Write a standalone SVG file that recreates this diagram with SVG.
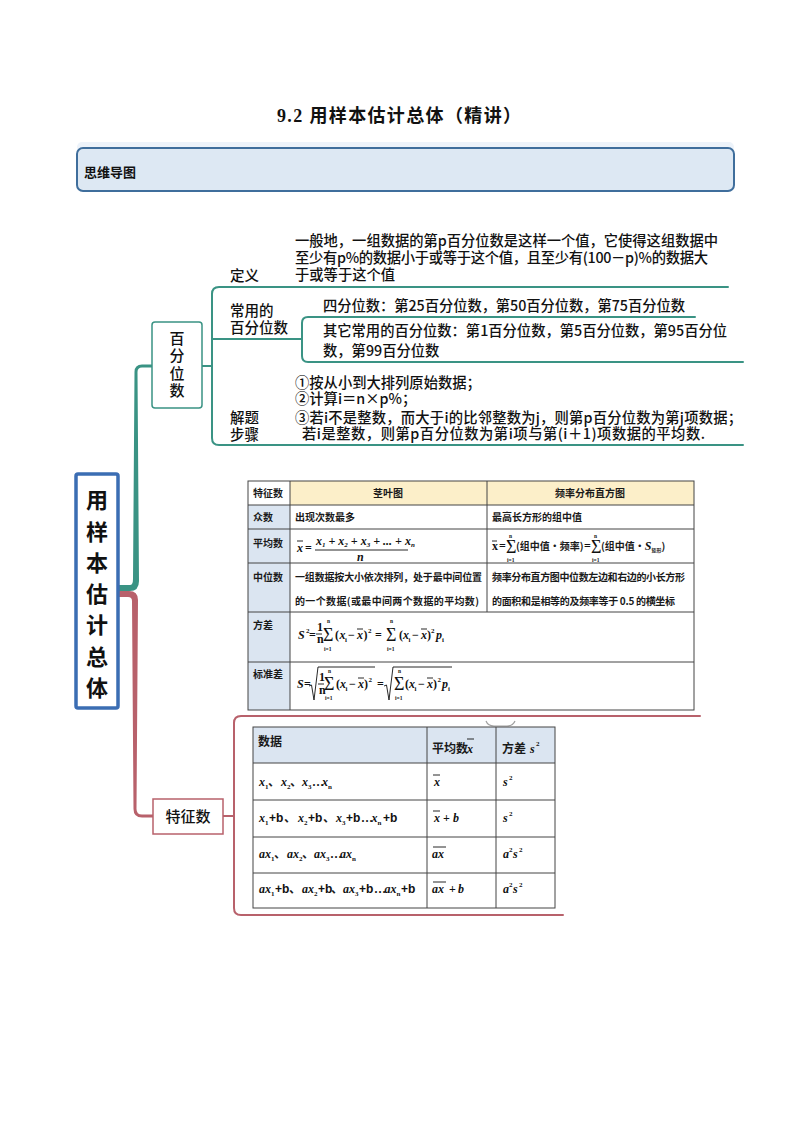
<svg xmlns="http://www.w3.org/2000/svg" width="794" height="1123" viewBox="0 0 794 1123">
<style>
.cjk{font-family:"Noto Sans CJK SC","Noto Sans",sans-serif;fill:#111}
.mm{font-size:14.3px;font-weight:500}
.lbl{font-size:14.5px;font-weight:500}
.tb{font-size:10px;font-weight:bold;fill:#1a1a1a}
.t2{font-size:12px;font-weight:bold;fill:#1a1a1a}
.m{font-family:"Liberation Serif",serif;font-style:italic;font-weight:bold;font-size:12px;fill:#111}
.mu{font-family:"Liberation Serif",serif;font-weight:bold;font-size:12px;fill:#111}
.ms{font-family:"Liberation Serif",serif;font-weight:bold;font-size:7px;fill:#111}
.mt{font-family:"Liberation Serif",serif;font-weight:bold;font-size:5.5px;fill:#111}
.sg{font-family:"Liberation Serif",serif;font-size:18px;fill:#111}
.ab{font-family:"Liberation Sans",sans-serif;font-weight:bold;font-size:12px;fill:#111}
.teal{fill:none;stroke:#3a9384;stroke-width:2;stroke-linecap:round}
.red{fill:none;stroke:#b8616b;stroke-width:2;stroke-linecap:round}
.grid{fill:none;stroke:#444;stroke-width:1}
.bar{stroke:#111;stroke-width:0.9}
</style>

<!-- title -->
<text x="277" y="122" font-family="Liberation Serif,'Noto Sans CJK SC',serif" font-weight="bold" font-size="18" fill="#111" textLength="244">9.2  用样本估计总体（精讲）</text>

<!-- header band -->
<g id="header">
  <rect x="77" y="142" width="657" height="10" rx="5" fill="#edf3fa"/>
  <rect x="77" y="148" width="657" height="43" rx="6" fill="#dde8f3" stroke="#3f6e9c" stroke-width="2"/>
  <text x="84" y="177" class="cjk" font-size="13" font-weight="bold">思维导图</text>
</g>

<!-- connectors -->
<g id="connectors">
  <path d="M118 585 H130 Q133 585 133 579 L134.5 372 Q134.5 364.5 142 364.5 H152 V367.5 H142 Q137.5 367.5 137.5 372 L139 581 Q139 591 130 591 H118 Z" fill="#3a9384"/>
  <path d="M118 591 H129 Q138 591 138 600 L136.5 809 Q136.5 814.5 142 814.5 H153 V817.5 H142 Q133.5 817.5 133.5 809 L132 601 Q132 597 128 597 H118 Z" fill="#b8616b"/>
  <!-- 百分位数 branches -->
  <path class="teal" d="M202 366 H212"/>
  <path class="teal" d="M728 287 H219 Q212 287 212 294 V438 Q212 445 219 445 H743"/>
  <path class="teal" d="M212 339 H302"/>
  <path class="teal" d="M695 317 H308 Q302 317 302 323 V356 Q302 362 308 362 H743"/>
  <!-- 特征数 branches -->
  <path class="red" d="M223 816 H234"/>
  <path class="red" d="M700 716 H241 Q234 716 234 723 V908 Q234 915 241 915 H563"/>
</g>

<!-- root -->
<g id="root">
  <rect x="76" y="474" width="42" height="234" rx="2" fill="#fff" stroke="#3b6db3" stroke-width="3.5"/>
  <g class="cjk" font-size="22" font-weight="bold" text-anchor="middle">
    <text x="97" y="508">用</text>
    <text x="97" y="540">样</text>
    <text x="97" y="571">本</text>
    <text x="97" y="602">估</text>
    <text x="97" y="633">计</text>
    <text x="97" y="665">总</text>
    <text x="97" y="696">体</text>
  </g>
</g>

<!-- 百分位数 node -->
<g id="node-percentile">
  <rect x="152" y="322" width="50" height="86" rx="3" fill="#fff" stroke="#3a9384" stroke-width="1.5"/>
  <g class="cjk" font-size="15" font-weight="500" text-anchor="middle">
    <text x="177" y="344">百</text>
    <text x="177" y="361">分</text>
    <text x="177" y="379">位</text>
    <text x="177" y="396">数</text>
  </g>
</g>

<g id="branch-definition" class="cjk">
  <text x="230" y="281" class="lbl">定义</text>
  <text x="295" y="246" class="mm" textLength="423">一般地，一组数据的第p百分位数是这样一个值，它使得这组数据中</text>
  <text x="295" y="263" class="mm" textLength="413">至少有p%的数据小于或等于这个值，且至少有(100－p)%的数据大</text>
  <text x="295" y="280" class="mm">于或等于这个值</text>
</g>

<g id="branch-common" class="cjk">
  <text x="230" y="316" class="lbl">常用的</text>
  <text x="230" y="333" class="lbl">百分位数</text>
  <text x="323" y="311" class="mm" textLength="362">四分位数：第25百分位数，第50百分位数，第75百分位数</text>
  <text x="323" y="336" class="mm" textLength="404">其它常用的百分位数：第1百分位数，第5百分位数，第95百分位</text>
  <text x="323" y="356" class="mm">数，第99百分位数</text>
</g>

<g id="branch-steps" class="cjk">
  <text x="230" y="423" class="lbl">解题</text>
  <text x="230" y="440" class="lbl">步骤</text>
  <text x="295" y="388" class="mm">①按从小到大排列原始数据；</text>
  <text x="295" y="404" class="mm">②计算i＝n×p%；</text>
  <text x="295" y="423" class="mm" textLength="447">③若i不是整数，而大于i的比邻整数为j，则第p百分位数为第j项数据；</text>
  <text x="302" y="439" class="mm" textLength="403">若i是整数，则第p百分位数为第i项与第(i＋1)项数据的平均数.</text>
</g>

<!-- 特征数 node -->
<g id="node-features">
  <rect x="153" y="799" width="70" height="35" fill="#fff" stroke="#b8616b" stroke-width="1.5"/>
  <text x="188" y="822" class="cjk" font-size="15" font-weight="500" text-anchor="middle">特征数</text>
</g>

<!-- table 1 -->
<g id="table-features">
  <rect x="248" y="481" width="446" height="229" fill="#fff"/>
  <rect x="290" y="481" width="404" height="24" fill="#fcefc9"/>
  <rect x="248" y="505" width="42" height="205" fill="#dbe5f1"/>
  <rect class="grid" x="248" y="481" width="446" height="229"/>
  <path class="grid" d="M290 481 V710 M487 481 V612 M248 505 H694 M248 529 H694 M248 563 H694 M248 612 H694 M248 662 H694"/>
  <g class="cjk tb">
    <text x="253" y="497">特征数</text>
    <text x="388" y="497" text-anchor="middle">茎叶图</text>
    <text x="590" y="497" text-anchor="middle">频率分布直方图</text>
    <text x="253" y="521">众数</text>
    <text x="295" y="521">出现次数最多</text>
    <text x="492" y="521">最高长方形的组中值</text>
    <text x="253" y="547">平均数</text>
    <text x="253" y="581">中位数</text>
    <text x="295" y="581" textLength="187">一组数据按大小依次排列，处于最中间位置</text>
    <text x="295" y="605" textLength="184">的一个数据(或最中间两个数据的平均数)</text>
    <text x="492" y="581" textLength="193">频率分布直方图中位数左边和右边的小长方形</text>
    <text x="492" y="605" textLength="183">的面积和是相等的及频率等于 0.5 的横坐标</text>
    <text x="253" y="629">方差</text>
    <text x="253" y="678">标准差</text>
  </g>
  <!-- mean (stem-leaf) -->
  <g>
    <text class="m" x="297" y="552" font-size="11">x</text>
    <line class="bar" x1="297" y1="541" x2="303" y2="541"/>
    <text class="mu" x="305" y="552" font-size="10">=</text>
    <text class="m" x="316" y="545" font-size="11">x<tspan class="ms" dy="2">1</tspan><tspan class="mu" dy="-2" font-size="11"> + </tspan>x<tspan class="ms" dy="2">2</tspan><tspan class="mu" dy="-2" font-size="11"> + </tspan>x<tspan class="ms" dy="2">3</tspan><tspan class="mu" dy="-2" font-size="11"> + ... + </tspan>x<tspan class="ms" dy="2">n</tspan></text>
    <line class="bar" x1="315" y1="550" x2="408" y2="550"/>
    <text class="m" x="357" y="561" font-size="10">n</text>
  </g>
  <!-- mean (histogram) -->
  <g>
    <text class="mu" x="492" y="550" font-size="10">x</text>
    <line class="bar" x1="492" y1="541" x2="497" y2="541"/>
    <text class="mu" x="499" y="550" font-size="10">=</text>
    <text class="sg" x="506" y="553" font-size="14">Σ</text>
    <text class="mt" x="509" y="538">n</text>
    <text class="mt" x="507" y="562">i=1</text>
    <text class="cjk tb" x="516" y="550">(组中值•频率)</text>
    <text class="mu" x="584" y="550" font-size="10">=</text>
    <text class="sg" x="591" y="553" font-size="14">Σ</text>
    <text class="mt" x="594" y="538">n</text>
    <text class="mt" x="592" y="562">i=1</text>
    <text class="cjk tb" x="601" y="550">(组中值•<tspan class="m" font-size="10">S</tspan><tspan font-size="5" dy="2">矩形</tspan><tspan dy="-2">)</tspan></text>
  </g>
  <!-- variance -->
  <g>
    <text class="m" x="298" y="639">S</text>
    <text class="ms" x="306" y="633">2</text>
    <text class="mu" x="309" y="639" font-size="11">=</text>
    <text class="mu" x="317" y="631" font-size="10">1</text>
    <line class="bar" x1="316" y1="634" x2="322" y2="634"/>
    <text class="mu" x="317" y="643" font-size="9">n</text>
    <text class="sg" x="323" y="641">Σ</text>
    <text class="mt" x="327" y="623">n</text>
    <text class="mt" x="324" y="651">i=1</text>
    <text class="mu" x="335" y="639">(</text><text class="m" x="339.5" y="639">x</text><text class="ms" x="345" y="642">i</text>
    <text class="mu" x="348" y="639">−</text><text class="m" x="357" y="639">x</text><line class="bar" x1="357" y1="629" x2="363" y2="629"/>
    <text class="mu" x="363.5" y="639">)</text><text class="ms" x="368" y="633">2</text>
    <text class="mu" x="375" y="639" font-size="11">=</text>
    <text class="sg" x="386" y="641">Σ</text>
    <text class="mt" x="390" y="623">n</text>
    <text class="mt" x="387" y="651">i=1</text>
    <text class="mu" x="399" y="639">(</text><text class="m" x="403" y="639">x</text><text class="ms" x="408.5" y="642">i</text>
    <text class="mu" x="412" y="639">−</text><text class="m" x="421" y="639">x</text><line class="bar" x1="421" y1="629" x2="427" y2="629"/>
    <text class="mu" x="427" y="639">)</text><text class="ms" x="431" y="633">2</text>
    <text class="m" x="436" y="639">p</text><text class="ms" x="442" y="642">i</text>
  </g>
  <!-- standard deviation -->
  <g>
    <text class="m" x="297" y="688">S</text>
    <text class="mu" x="304" y="688" font-size="11">=</text>
    <path d="M309 686 L311.5 685 L314 700 L318 667 H375" fill="none" stroke="#111" stroke-width="0.9"/>
    <text class="mu" x="319" y="681" font-size="10">1</text>
    <line class="bar" x1="318" y1="684" x2="324" y2="684"/>
    <text class="mu" x="319" y="694" font-size="9">n</text>
    <text class="sg" x="324" y="690">Σ</text>
    <text class="mt" x="328" y="673">n</text>
    <text class="mt" x="325" y="700">i=1</text>
    <text class="mu" x="336" y="688">(</text><text class="m" x="340" y="688">x</text><text class="ms" x="345.5" y="691">i</text>
    <text class="mu" x="349" y="688">−</text><text class="m" x="358" y="688">x</text><line class="bar" x1="358" y1="678" x2="364" y2="678"/>
    <text class="mu" x="364" y="688">)</text><text class="ms" x="368.5" y="682">2</text>
    <text class="mu" x="377" y="688" font-size="11">=</text>
    <path d="M384 686 L386.5 685 L389 700 L393 667 H452" fill="none" stroke="#111" stroke-width="0.9"/>
    <text class="sg" x="394" y="690">Σ</text>
    <text class="mt" x="398" y="673">n</text>
    <text class="mt" x="395" y="700">i=1</text>
    <text class="mu" x="405" y="688">(</text><text class="m" x="409" y="688">x</text><text class="ms" x="414.5" y="691">i</text>
    <text class="mu" x="418" y="688">−</text><text class="m" x="427" y="688">x</text><line class="bar" x1="427" y1="678" x2="433" y2="678"/>
    <text class="mu" x="433" y="688">)</text><text class="ms" x="437.5" y="682">2</text>
    <text class="m" x="442" y="688">p</text><text class="ms" x="448" y="691">i</text>
  </g>
</g>

<!-- small grey mark -->
<path d="M486 721 Q488 726 494 726 H507 Q513 726 515 721" fill="none" stroke="#a0a0a0" stroke-width="1.2"/>

<!-- table 2 -->
<g id="table-transform">
  <rect x="253" y="727" width="302" height="181" fill="#fff"/>
  <rect x="253" y="727" width="302" height="36" fill="#dbe5f1"/>
  <rect class="grid" x="253" y="727" width="302" height="181" stroke="#222"/>
  <path class="grid" stroke="#222" d="M427 727 V908 M496 727 V908 M253 763 H555 M253 800 H555 M253 837 H555 M253 873 H555"/>
  <!-- header -->
  <text class="cjk t2" x="258" y="746">数据</text>
  <text class="cjk t2" x="432" y="753" font-size="11">平均数</text>
  <text class="m" x="467" y="753">x</text><line class="bar" x1="467" y1="739" x2="474" y2="739"/>
  <text class="cjk t2" x="502" y="753" font-size="11">方差</text>
  <text class="m" x="530" y="753">s</text><text class="ms" x="536" y="746">2</text>
  <!-- row 1 -->
  <g>
    <text class="m" x="259" y="786">x</text><text class="ms" x="265" y="789">1</text>
    <text class="cjk t2" x="268" y="786" font-size="11">、</text>
    <text class="m" x="281" y="786">x</text><text class="ms" x="287" y="789">2</text>
    <text class="cjk t2" x="290" y="786" font-size="11">、</text>
    <text class="m" x="302" y="786">x</text><text class="ms" x="308" y="789">3</text>
    <text class="mu" x="312" y="786" font-size="9">…</text>
    <text class="m" x="322" y="786">x</text><text class="ms" x="328" y="789">n</text>
    <text class="m" x="434" y="786">x</text><line class="bar" x1="433" y1="775" x2="440" y2="775"/>
    <text class="m" x="503" y="786">s</text><text class="ms" x="509" y="780">2</text>
  </g>
  <!-- row 2 -->
  <g>
    <text class="m" x="259" y="822">x</text><text class="ms" x="265" y="825">1</text>
    <text class="ab" x="269" y="822">+b</text>
    <text class="cjk t2" x="284" y="822" font-size="11">、</text>
    <text class="m" x="298" y="822">x</text><text class="ms" x="304" y="825">2</text>
    <text class="ab" x="308" y="822">+b</text>
    <text class="cjk t2" x="323" y="822" font-size="11">、</text>
    <text class="m" x="336" y="822">x</text><text class="ms" x="342" y="825">3</text>
    <text class="ab" x="346" y="822">+b</text>
    <text class="mu" x="361" y="822" font-size="8">…</text>
    <text class="m" x="371.5" y="822">x</text><text class="ms" x="377.5" y="825">n</text>
    <text class="ab" x="383" y="822">+b</text>
    <text class="m" x="434" y="822">x</text><line class="bar" x1="433" y1="811" x2="440" y2="811"/>
    <text class="mu" x="443" y="822">+</text><text class="m" x="453" y="822">b</text>
    <text class="m" x="503" y="822">s</text><text class="ms" x="509" y="816">2</text>
  </g>
  <!-- row 3 -->
  <g>
    <text class="m" x="259" y="858">ax</text><text class="ms" x="271" y="861">1</text>
    <text class="cjk t2" x="274" y="858" font-size="11">、</text>
    <text class="m" x="287" y="858">ax</text><text class="ms" x="299" y="861">2</text>
    <text class="cjk t2" x="302" y="858" font-size="11">、</text>
    <text class="m" x="314" y="858">ax</text><text class="ms" x="326" y="861">3</text>
    <text class="mu" x="330" y="858" font-size="9">…</text>
    <text class="m" x="340" y="858">ax</text><text class="ms" x="352" y="861">n</text>
    <text class="m" x="432" y="858">ax</text><line class="bar" x1="433" y1="847" x2="446" y2="847"/>
    <text class="m" x="503" y="858">a</text><text class="ms" x="509" y="852">2</text>
    <text class="m" x="513" y="858">s</text><text class="ms" x="519" y="852">2</text>
  </g>
  <!-- row 4 -->
  <g>
    <text class="m" x="259" y="893">ax</text><text class="ms" x="271" y="896">1</text>
    <text class="ab" x="275" y="893">+b</text>
    <text class="cjk t2" x="289" y="893" font-size="11">、</text>
    <text class="m" x="302" y="893">ax</text><text class="ms" x="314" y="896">2</text>
    <text class="ab" x="318" y="893">+b</text>
    <text class="cjk t2" x="331" y="893" font-size="11">、</text>
    <text class="m" x="343" y="893">ax</text><text class="ms" x="355" y="896">3</text>
    <text class="ab" x="359" y="893">+b</text>
    <text class="mu" x="374" y="893" font-size="8">…</text>
    <text class="m" x="384.5" y="893">ax</text><text class="ms" x="396.5" y="896">n</text>
    <text class="ab" x="401" y="893">+b</text>
    <text class="m" x="432" y="893">ax</text><line class="bar" x1="433" y1="882" x2="446" y2="882"/>
    <text class="mu" x="449" y="893">+</text><text class="m" x="458" y="893">b</text>
    <text class="m" x="503" y="893">a</text><text class="ms" x="509" y="887">2</text>
    <text class="m" x="513" y="893">s</text><text class="ms" x="519" y="887">2</text>
  </g>
</g>
</svg>
